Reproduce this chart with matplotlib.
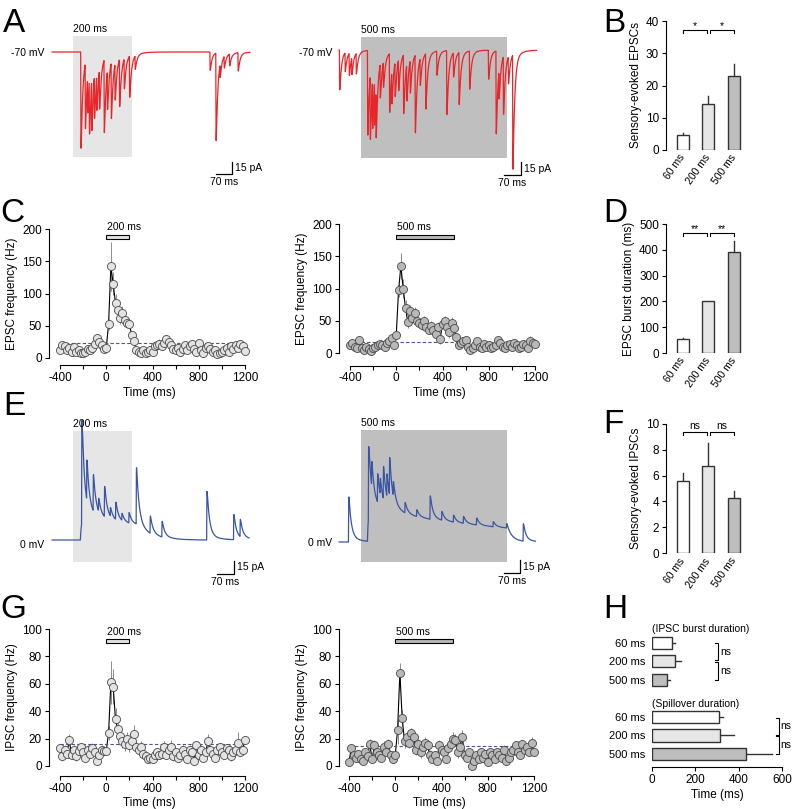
import numpy as np
import matplotlib.pyplot as plt
from matplotlib.patches import Rectangle

plt.rcParams['font.family'] = ['Liberation Sans', 'DejaVu Sans']
plt.rcParams['axes.unicode_minus'] = False

# ---------------- data ----------------
# A: sensory-evoked EPSC events (time ms, amplitude pA)
epsc200_t = [26, 41, 49, 55, 63, 72, 80, 89, 105, 116, 129, 142, 157, 173, 191, 210,
             464, 484, 498, 512, 530, 559]
epsc200_a = [-121, -83, -45, -70, -65, -55, -45, -50, -92, -50, -71, -46, -60, -38, -52, -17,
             -23, -110, -17, -15, -15, -23]
epsc500_t = [-74, -55, -41, -32, -17, 22, 31, 39, 46, 51, 65, 76, 97, 105, 116, 128, 145, 156,
             168, 185, 202, 221, 259, 293, 316, 335, 371, 436, 462, 472, 487, 504, 519]
epsc500_a = [-48, -23, -27, -21, -25, -102, -80, -60, -55, -60, -42, -31, -71, -40, -42, -38, -71,
             -45, -40, -94, -33, -67, -29, -77, -29, -63, -46, -35, -100, -35, -70, -33, -138]

# E: IPSC events (time ms, amplitude pA) and tonic (spillover) current
ipsc200_t = [29, 46, 68, 86, 106, 126, 144, 165, 189, 214, 261, 301, 453, 544, 566]
ipsc200_a = [118, 47, 42, 15, 35, 10, 20, 8, 12, 65, 20, 18, 56, 29, 20]
ipsc200_tonic = dict(on=25, off=215, amp=24, tau=500, tau_off=45)
ipsc500_t = [-43, 25, 36, 56, 65, 76, 88, 97, 110, 150, 190, 236, 276, 316, 350, 395, 452, 498, 555]
ipsc500_a = [52, 80, 29, 33, 19, 38, 27, 44, 17, 12, 8, 27, 10, 8, 8, 8, 6, 5, 20]
ipsc500_tonic = dict(on=22, off=500, amp=38, tau=550, tau_off=20)

# C, G: PSTH, 20 ms bins from -400 to 1200 ms
bin_t = np.arange(-400, 1201, 20)
epsc_f200 = [13, 20, 18, 12, 15, 10, 17, 9, 12, 8, 7, 10, 14, 12, 16, 22, 31, 25, 20, 14,
             15, 52, 142, 115, 85, 75, 62, 70, 59, 55, 53, 35, 27, 12, 10, 8, 12, 7, 10, 13,
             10, 18, 20, 22, 18, 24, 30, 25, 20, 14, 12, 16, 10, 14, 20, 12, 18, 22, 14, 10,
             23, 12, 8, 15, 18, 14, 10, 12, 6, 8, 10, 12, 15, 10, 18, 14, 20, 16, 22, 18, 11]
epsc_e200 = [5, 6, 5, 4, 5, 4, 5, 4, 4, 4, 4, 5, 4, 6, 8, 10, 6, 7, 5, 4,
             4, 8, 38, 18, 14, 12, 10, 10, 9, 8, 7, 6, 5, 4, 4, 4, 4, 4, 4, 4,
             4, 5, 6, 8, 6, 8, 6, 5, 5, 4, 4, 5, 4, 5, 5, 4, 5, 5, 4, 4,
             6, 4, 4, 5, 5, 4, 4, 4, 4, 4, 4, 4, 5, 4, 5, 5, 6, 5, 6, 5, 4]
epsc_f500 = [12, 15, 10, 7, 20, 8, 5, 10, 6, 3, 8, 10, 12, 14, 12, 10, 16, 18, 23, 12,
             28, 97, 135, 100, 70, 48, 65, 55, 62, 50, 47, 44, 50, 40, 36, 42, 35, 30, 40, 22,
             45, 50, 40, 32, 46, 38, 25, 12, 15, 18, 20, 10, 5, 8, 12, 18, 10, 8, 14, 10,
             12, 8, 10, 12, 20, 15, 10, 8, 12, 14, 10, 15, 12, 8, 10, 14, 12, 8, 18, 16, 14]
epsc_e500 = [4, 4, 4, 4, 5, 4, 4, 4, 4, 3, 4, 4, 4, 4, 4, 4, 5, 5, 6, 5,
             5, 10, 20, 15, 12, 10, 10, 9, 9, 8, 8, 8, 8, 8, 7, 8, 7, 7, 8, 8,
             8, 8, 8, 8, 10, 8, 6, 5, 5, 5, 5, 4, 4, 4, 4, 5, 4, 4, 4, 4,
             4, 4, 4, 4, 5, 4, 4, 4, 4, 4, 4, 4, 4, 4, 4, 5, 4, 5, 8, 5, 4]
ipsc_f200 = [13, 7, 12, 9, 19, 8, 12, 7, 11, 14, 10, 6, 12, 9, 13, 10, 4, 8, 12, 11,
             11, 24, 61, 58, 34, 27, 22, 18, 16, 20, 15, 18, 23, 14, 12, 14, 9, 7, 5, 6,
             5, 8, 10, 8, 9, 14, 8, 12, 14, 7, 10, 6, 8, 12, 9, 5, 12, 10, 4, 15,
             8, 12, 6, 10, 18, 12, 9, 6, 12, 14, 10, 8, 13, 12, 7, 10, 12, 17, 10, 12, 19]
ipsc_e200 = [3, 3, 3, 3, 4, 3, 3, 3, 3, 3, 3, 3, 3, 3, 4, 3, 3, 3, 3, 3,
             3, 5, 16, 13, 8, 6, 6, 5, 5, 5, 5, 4, 7, 4, 4, 4, 3, 3, 2, 2,
             2, 2, 3, 3, 3, 4, 3, 3, 5, 3, 3, 3, 3, 3, 3, 3, 3, 3, 3, 3,
             3, 3, 3, 3, 5, 3, 3, 3, 3, 3, 3, 3, 3, 3, 3, 3, 3, 8, 3, 3, 3]
ipsc_f500 = [3, 13, 8, 6, 9, 5, 4, 10, 7, 16, 5, 15, 10, 8, 6, 14, 10, 16, 8, 5,
             8, 26, 68, 35, 18, 21, 17, 24, 21, 12, 16, 10, 14, 17, 15, 8, 5, 8, 4, 15,
             12, 10, 5, 13, 16, 20, 19, 10, 14, 21, 8, 6, 10, 0, 4, 8, 5, 10, 6, 9,
             3, 10, 8, 5, 10, 8, 6, 12, 4, 6, 10, 12, 15, 10, 8, 16, 12, 14, 10, 17, 10]
ipsc_e500 = [3, 3, 3, 3, 3, 3, 3, 3, 3, 4, 3, 4, 3, 3, 3, 4, 3, 4, 3, 3,
             3, 10, 7, 6, 5, 4, 4, 4, 4, 4, 4, 4, 4, 4, 4, 4, 3, 3, 3, 4,
             4, 4, 3, 4, 4, 5, 4, 4, 4, 5, 3, 3, 3, 3, 3, 3, 3, 3, 3, 3,
             3, 3, 3, 3, 3, 3, 3, 3, 3, 3, 3, 3, 3, 3, 3, 3, 3, 3, 3, 4, 3]
epsc_base = [24, 17]
ipsc_base = [16, 14.5]

# B, D, F, H: summary bars
cats = ['60 ms', '200 ms', '500 ms']
evoked_epsc = [4.8, 14.3, 22.8]
evoked_epsc_err = [0.6, 2.3, 3.8]
epsc_burst = [55, 200, 392]
epsc_burst_err = [3, 3, 42]
evoked_ipsc = [5.6, 6.7, 4.3]
evoked_ipsc_err = [0.6, 1.8, 0.5]
ipsc_burst = [94, 104, 69]
ipsc_burst_err = [13, 31, 15]
spill_dur = [307, 313, 434]
spill_dur_err = [21, 64, 120]

# ---------------- figure ----------------
W, H = 792, 809
fig = plt.figure(figsize=(W / 100, H / 100), dpi=100)
fills = ['#ffffff', '#e6e6e6', '#bebebe']
FS = 8.5


def px_axes(l, t, r, b):
    return fig.add_axes([l / W, 1 - b / H, (r - l) / W, (b - t) / H])


def events_trace(t, ev_t, ev_a, tau_f, tau_s, frac_s):
    dk = np.arange(0, 600, 0.25)
    k = (1 - np.exp(-dk / 0.5)) * ((1 - frac_s) * np.exp(-dk / tau_f) + frac_s * np.exp(-dk / tau_s))
    k /= k.max()
    y = np.zeros_like(t)
    for ti, a in zip(ev_t, ev_a):
        d = t - ti
        m = d > 0
        y[m] += a * np.interp(d[m], dk, k, right=0)
    return y


def tonic_trace(t, on, off, amp, tau, tau_off):
    y = np.where(t > on, amp * (1 - np.exp(-(t - on) / 3)) * np.exp(-(t - on) / tau), 0.0)
    return np.where(t > off, y * np.exp(-(t - off) / tau_off), y)


def trace_panel(rect, px0, base, ms_px, pa_px, t_span, ev_t, ev_a, kin, color, tonic,
                box, dur, box_color, mv_text, mv_px, bar):
    l, t, r, b = rect
    ax = px_axes(l, t, r, b)
    mx = lambda p: (p - px0) * ms_px
    my = lambda p: (base - p) * pa_px
    ax.set_xlim(mx(l), mx(r))
    ax.set_ylim(my(b), my(t))
    ax.axis('off')
    ax.add_patch(Rectangle((0, my(box[1])), dur, my(box[0]) - my(box[1]),
                           fc=box_color, ec='none', zorder=0))
    ax.text(0, my(box[0] - 2), f'{dur} ms', fontsize=7.5, va='bottom', ha='left')
    tt = np.arange(t_span[0], t_span[1], 0.5)
    y = events_trace(tt, ev_t, ev_a, *kin)
    if tonic is not None:
        y = y + tonic_trace(tt, **tonic)
    ax.plot(tt, y, color=color, lw=0.9, zorder=2)
    ax.text(mx(mv_px[0]), my(mv_px[1]), mv_text, fontsize=7.5, ha='right', va='center')
    x0, x1, y0, y1 = bar
    ax.plot([mx(x0), mx(x1), mx(x1)], [my(y0), my(y0), my(y1)], color='k', lw=0.9)
    ax.text(mx(x1 + 3), my((y0 + y1) / 2), '15 pA', fontsize=7.5, va='center')
    ax.text(mx((x0 + x1) / 2), my(y0 + 3), '70 ms', fontsize=7.5, ha='center', va='top')
    return ax


def freq_panel(left, top, bottom, xm400, ymax, yticks, vals, errs, base, fill, dur,
               bar_y, bar_h, ylabel, offset):
    s = 185 / 1600
    right = xm400 + 190
    ax = px_axes(left, top, right, bottom)
    ax.set_xlim(-400 - (xm400 - left) / s, 1200 + (right - xm400 - 185) / s)
    ax.set_ylim(0, ymax)
    ax.errorbar(bin_t, vals, yerr=errs, fmt='none', ecolor='#8c8c8c', elinewidth=0.7,
                capsize=0, zorder=1, clip_on=False)
    ax.plot(bin_t, vals, color='k', lw=0.8, zorder=2, clip_on=False)
    ax.plot([-400, 1200], [base, base], color='#50509a', ls=(0, (3, 2)), lw=0.8, zorder=2.5)
    ax.plot(bin_t, vals, 'o', ms=5.8, mfc=fill, mec='#4a4a4a', mew=0.6, zorder=3, clip_on=False)
    ax.add_patch(Rectangle((0, bar_y), dur, bar_h, fc=fill, ec='k', lw=0.8, clip_on=False, zorder=3))
    ax.text(4, bar_y + bar_h * 1.6, f'{dur} ms', fontsize=7.5, va='bottom', clip_on=False)
    for sp in ['top', 'right']:
        ax.spines[sp].set_visible(False)
    ax.spines['bottom'].set_position(('outward', offset))
    ax.spines['bottom'].set_bounds(-400, 1200)
    ax.spines['left'].set_bounds(0, ymax)
    ax.set_xticks([-400, 0, 400, 800, 1200])
    ax.set_xticks([-200, 200, 600, 1000], minor=True)
    ax.set_yticks(yticks)
    ax.tick_params(direction='out', length=3, width=0.8, labelsize=FS, pad=2)
    ax.tick_params(which='minor', direction='out', length=3, width=0.8)
    ax.set_ylabel(ylabel, fontsize=FS, labelpad=3)
    ax.set_xlabel('Time (ms)', fontsize=FS, labelpad=2)
    return ax


def bar_panel(top, bottom, ymax, yticks, vals, errs, ylabel, br_y, br_h, sig, sig_dy):
    ax = px_axes(666, top, 748, bottom)
    x = np.arange(3)
    ax.bar(x, vals, width=0.47, color=fills, edgecolor='#333333', lw=1, zorder=2)
    for xi, v, e in zip(x, vals, errs):
        ax.plot([xi, xi], [v, v + e], color='#333333', lw=1, zorder=1)
    ax.set_xlim(-0.66, 2.55)
    ax.set_ylim(0, ymax)
    for sp in ['top', 'right', 'bottom']:
        ax.spines[sp].set_visible(False)
    ax.set_yticks(yticks)
    ax.set_xticks(x)
    ax.set_xticklabels(cats, rotation=55, ha='right', va='center', rotation_mode='anchor')
    ax.tick_params(axis='x', length=0, pad=4, labelsize=7.5)
    ax.tick_params(axis='y', direction='out', length=3, width=0.8, labelsize=FS, pad=2)
    ax.set_ylabel(ylabel, fontsize=FS, labelpad=3)
    for a, b in [(0, 0.95), (1.07, 2)]:
        ax.plot([a, a, b, b], [br_y - br_h, br_y, br_y, br_y - br_h], color='k', lw=0.8,
                clip_on=False)
        ax.text((a + b) / 2, br_y + sig_dy, sig, ha='center', va='bottom', fontsize=7.5)
    return ax


# A
trace_panel((0, 20, 262, 192), 73, 52, 200 / 59, 1.25, (-71, 600), epsc200_t, epsc200_a,
            (6, 25, 0.04), '#e8262a', None, (36, 157), 200, '#e6e6e6', '-70 mV', (44, 53),
            (216, 232, 174, 162))
trace_panel((290, 20, 550, 192), 361, 50, 500 / 146, 1.2, (-75, 601), epsc500_t, epsc500_a,
            (6, 25, 0.04), '#e8262a', None, (37, 158), 500, '#bfbfbf', '-70 mV', (332, 53),
            (504, 521, 175, 162))

# E
trace_panel((0, 415, 262, 592), 73, 540, 200 / 59, 15 / 13, (-71, 597), ipsc200_t, ipsc200_a,
            (8, 30, 0.12), '#3b55a5', ipsc200_tonic, (431, 562), 200, '#e6e6e6', '0 mV', (44, 545),
            (217, 234, 574, 561))
trace_panel((290, 415, 550, 592), 361, 542, 500 / 146, 15 / 13, (-75, 598), ipsc500_t, ipsc500_a,
            (8, 30, 0.12), '#3b55a5', ipsc500_tonic, (430, 562), 500, '#bfbfbf', '0 mV', (332, 543),
            (504, 520, 573, 560))

# C
freq_panel(49, 229, 358, 60, 200, [0, 50, 100, 150, 200], epsc_f200, epsc_e200, epsc_base[0],
           '#e3e3e3', 200, 184.5, 6.5, 'EPSC frequency (Hz)', 5)
freq_panel(339, 224, 353, 350, 200, [0, 50, 100, 150, 200], epsc_f500, epsc_e500, epsc_base[1],
           '#b8b8b8', 500, 177, 6.5, 'EPSC frequency (Hz)', 9)

# G
freq_panel(49, 629, 766, 60, 100, [0, 20, 40, 60, 80, 100], ipsc_f200, ipsc_e200, ipsc_base[0],
           '#e3e3e3', 200, 89.5, 3, 'IPSC frequency (Hz)', 7)
freq_panel(339, 629, 766, 349, 100, [0, 20, 40, 60, 80, 100], ipsc_f500, ipsc_e500, ipsc_base[1],
           '#b8b8b8', 500, 89.5, 3, 'IPSC frequency (Hz)', 7)

# B, D, F
bar_panel(21, 150, 40, [0, 10, 20, 30, 40], evoked_epsc, evoked_epsc_err,
          'Sensory-evoked EPSCs', 37.2, 1.0, '*', -0.3)
bar_panel(224, 353, 500, [0, 100, 200, 300, 400, 500], epsc_burst, epsc_burst_err,
          'EPSC burst duration (ms)', 466, 11, '**', -6)
bar_panel(423.7, 553.3, 10, [0, 2, 4, 6, 8, 10], evoked_ipsc, evoked_ipsc_err,
          'Sensory-evoked IPSCs', 9.38, 0.22, 'ns', 0.05)

# H
ax = px_axes(652, 615, 782, 767)
rows_a = [0, 1, 2]
rows_b = [4, 5, 6]
ax.barh(rows_a, ipsc_burst, height=0.65, color=fills, edgecolor='#333333', lw=1, zorder=2)
ax.barh(rows_b, spill_dur, height=0.65, color=fills, edgecolor='#333333', lw=1, zorder=2)
for rows, vals, errs in [(rows_a, ipsc_burst, ipsc_burst_err), (rows_b, spill_dur, spill_dur_err)]:
    for r, v, e in zip(rows, vals, errs):
        ax.plot([v, v + e], [r, r], color='#333333', lw=1, zorder=1)
ax.set_xlim(0, 600)
ax.set_ylim(6.7, -1.5)
ax.set_yticks(rows_a + rows_b)
ax.set_yticklabels(cats + cats)
ax.tick_params(axis='y', length=0, pad=5, labelsize=8)
ax.set_xticks([0, 200, 400, 600])
ax.tick_params(axis='x', direction='out', length=3, width=0.8, labelsize=FS, pad=2)
for sp in ['top', 'right', 'left']:
    ax.spines[sp].set_visible(False)
ax.set_xlabel('Time (ms)', fontsize=FS, labelpad=2)
ax.text(0, -0.75, '(IPSC burst duration)', fontsize=7.5, va='center')
ax.text(0, 3.3, '(Spillover duration)', fontsize=7.5, va='center')
for xb, pairs in [(305, [(0, 0.95), (1.05, 2)]), (586, [(4.05, 4.95), (5.05, 6)])]:
    for a, b in pairs:
        ax.plot([xb - 12, xb, xb, xb - 12], [a, a, b, b], color='k', lw=0.8, clip_on=False)
        ax.text(xb + 8, (a + b) / 2, 'ns', fontsize=7.5, va='center', clip_on=False)

# panel letters
for letter, x, y in [('A', 3, 32), ('B', 603, 32), ('C', 0, 222), ('D', 603, 222),
                     ('E', 3, 415), ('F', 603, 433), ('G', 0, 618), ('H', 603, 618)]:
    fig.text(x / W, 1 - y / H, letter, fontsize=24, va='baseline', ha='left')

fig.savefig('out.png', dpi=100)
